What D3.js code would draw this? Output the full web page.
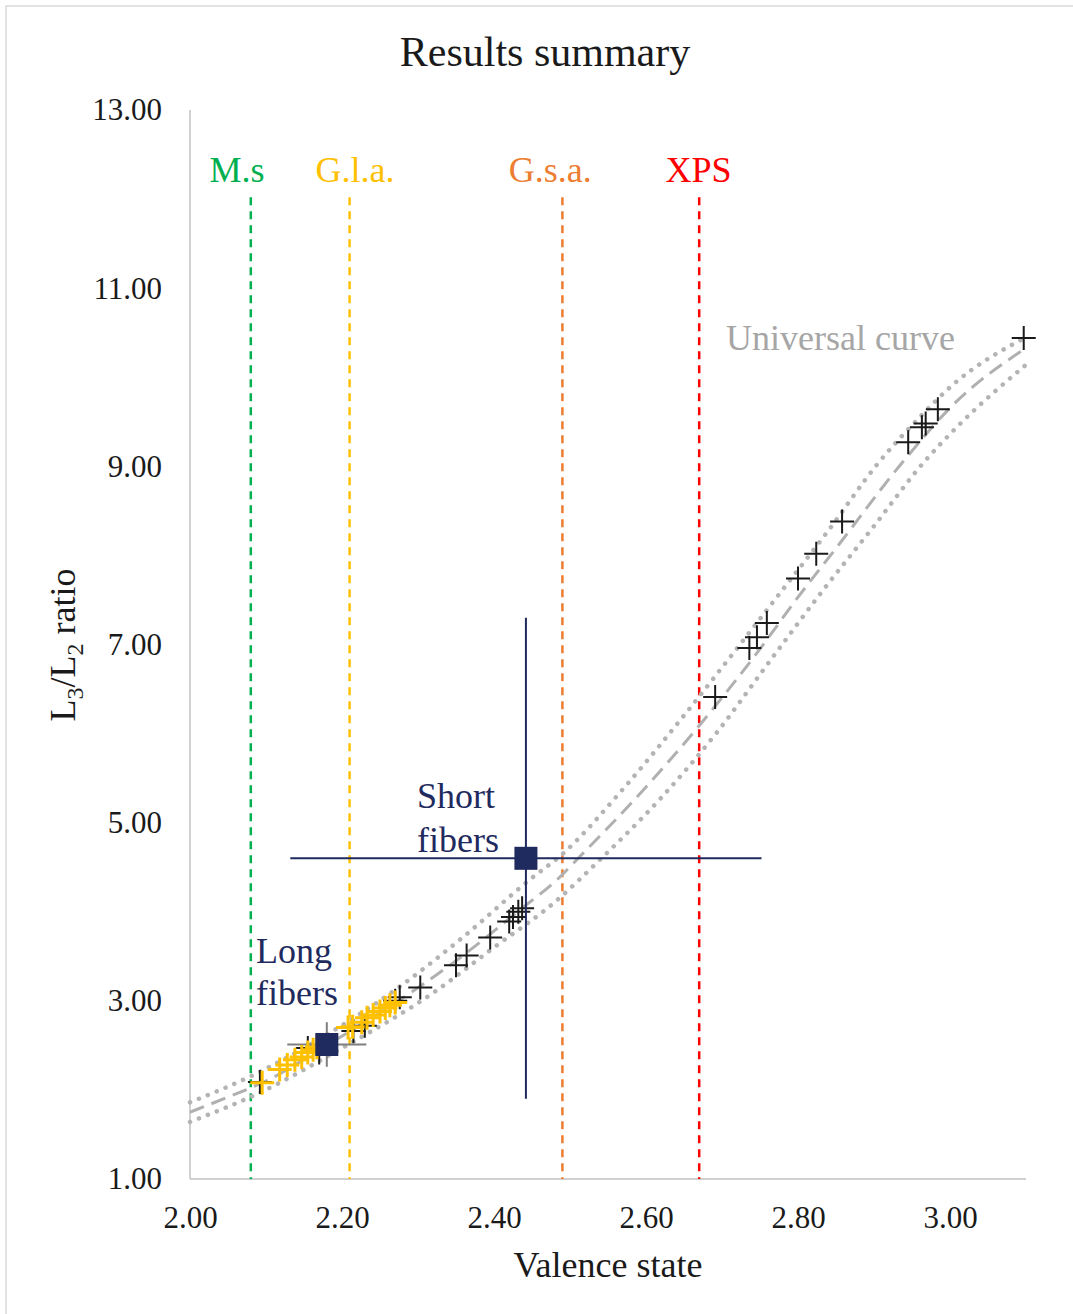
<!DOCTYPE html>
<html>
<head>
<meta charset="utf-8">
<script src="https://cdn.jsdelivr.net/npm/d3@7"></script>
<style>
  body { margin: 0; background: #fff; }
  text { font-family: "Liberation Serif", "Times New Roman", serif; }
</style>
</head>
<body>
<div id="chart"></div>
<script>
// universal curve (valence, L3/L2)
var midX = [2.00, 2.05, 2.10, 2.18, 2.29, 2.35, 2.434, 2.483, 2.513, 2.60, 2.671, 2.75, 2.799, 2.85, 2.937, 3.004, 3.10]
var midY = [1.75, 1.92, 2.10, 2.50, 3.09, 3.45, 4.02, 4.36, 4.62, 5.40, 6.10, 6.95, 7.52, 8.08, 9.04, 9.69, 10.33]
var upX = [2.00, 2.079, 2.18, 2.276, 2.36, 2.447, 2.489, 2.57, 2.645, 2.71, 2.772, 2.84, 2.904, 2.96, 3.003, 3.10]
var upY = [1.86, 2.15, 2.62, 3.16, 3.72, 4.36, 4.64, 5.38, 6.15, 6.85, 7.53, 8.28, 9.02, 9.55, 9.91, 10.45]
var loX = [2.00, 2.092, 2.20, 2.32, 2.40, 2.483, 2.539, 2.62, 2.693, 2.76, 2.833, 2.90, 2.965, 3.009, 3.10]
var loY = [1.64, 1.97, 2.47, 3.09, 3.60, 4.13, 4.58, 5.28, 6.01, 6.78, 7.61, 8.33, 9.04, 9.44, 10.14]

// black reference crosses
var blackX = [2.092, 2.155, 2.17, 2.215, 2.23, 2.27, 2.276, 2.303, 2.35, 2.364, 2.395, 2.42, 2.425, 2.432, 2.437,
              2.691, 2.736, 2.746, 2.759, 2.80, 2.824, 2.858, 2.945, 2.963, 2.968, 2.984, 3.097]
var blackY = [2.09, 2.47, 2.42, 2.66, 2.72, 3.00, 3.04, 3.15, 3.40, 3.51, 3.71, 3.89, 3.94, 4.00, 4.04,
              6.41, 6.96, 7.08, 7.24, 7.74, 8.02, 8.38, 9.27, 9.44, 9.48, 9.64, 10.44]

// yellow crosses (G.l.a.)
var yelX = [2.095, 2.118, 2.128, 2.138, 2.147, 2.155, 2.162, 2.167, 2.208, 2.214, 2.226, 2.233, 2.241, 2.25, 2.257, 2.263, 2.27]
var yelY = [2.08, 2.23, 2.28, 2.34, 2.37, 2.42, 2.45, 2.48, 2.70, 2.71, 2.76, 2.81, 2.84, 2.88, 2.92, 2.95, 2.98]

// measured fibers: value and error
var fiberNames = ["Long", "Short"]
var fiberX = [2.18, 2.442]
var fiberY = [2.51, 4.60]
var fiberErrX = [0.052, 0.31]
var fiberErrY = [0.25, 2.70]

// vertical method lines
var methodNames = ["M.s", "G.l.a.", "G.s.a.", "XPS"]
var methodX = [2.08, 2.21, 2.49, 2.67]
var methodLabelX = [2.062, 2.217, 2.474, 2.669]
var methodColors = ["#00b050", "#ffc000", "#ed7d31", "#ff0000"]

var xTicks = [2.0, 2.2, 2.4, 2.6, 2.8, 3.0]
var yTicks = [1, 3, 5, 7, 9, 11, 13]

var W = 1073, H = 1314

var svg = d3.select("#chart").append("svg")
    .attr("width", W)
    .attr("height", H)

svg.append("rect")
    .attr("x", 6).attr("y", 6)
    .attr("width", 1100).attr("height", 1400)
    .attr("fill", "white")
    .attr("stroke", "#d9d9d9")
    .attr("stroke-width", 1.5)

var x = d3.scaleLinear().domain([2.0, 3.1]).range([190, 1026])
var y = d3.scaleLinear().domain([1, 13]).range([1179, 110])

// title
svg.append("text")
    .attr("x", 545).attr("y", 66)
    .attr("text-anchor", "middle")
    .style("font-size", "42px")
    .attr("fill", "#1a1a1a")
    .text("Results summary")

// axes lines
svg.append("line")
    .attr("x1", x(2.0)).attr("x2", x(2.0))
    .attr("y1", y(13)).attr("y2", y(1))
    .attr("stroke", "#d0d0d0").attr("stroke-width", 2)
svg.append("line")
    .attr("x1", x(2.0)).attr("x2", x(3.1))
    .attr("y1", y(1)).attr("y2", y(1))
    .attr("stroke", "#d0d0d0").attr("stroke-width", 2)

var xAxis = d3.axisBottom(x).tickValues(xTicks).tickSize(0).tickPadding(27).tickFormat(d3.format(".2f"))
var gx = svg.append("g").attr("transform", "translate(0," + y(1) + ")").call(xAxis)
gx.select(".domain").remove()
gx.selectAll("text").style("font-size", "31px").attr("fill", "#1a1a1a")
    .style("font-family", "Liberation Serif")

var yAxis = d3.axisLeft(y).tickValues(yTicks).tickSize(0).tickPadding(28).tickFormat(d3.format(".2f"))
var gy = svg.append("g").attr("transform", "translate(" + x(2.0) + ",0)").call(yAxis)
gy.select(".domain").remove()
gy.selectAll("text").style("font-size", "31px").attr("fill", "#1a1a1a")
    .style("font-family", "Liberation Serif")

// axis titles
svg.append("text")
    .attr("x", 608).attr("y", 1277)
    .attr("text-anchor", "middle")
    .style("font-size", "36px")
    .attr("fill", "#1a1a1a")
    .text("Valence state")

var yl = svg.append("text")
    .attr("transform", "translate(75,645) rotate(-90)")
    .attr("text-anchor", "middle")
    .style("font-size", "36px")
    .attr("fill", "#1a1a1a")
yl.append("tspan").text("L")
yl.append("tspan").attr("dy", 8).style("font-size", "24px").text("3")
yl.append("tspan").attr("dy", -8).text("/L")
yl.append("tspan").attr("dy", 8).style("font-size", "24px").text("2")
yl.append("tspan").attr("dy", -8).text(" ratio")

// method lines
methodX.forEach(function(v, i){
    svg.append("line")
        .attr("x1", x(v)).attr("x2", x(v))
        .attr("y1", y(12.02)).attr("y2", y(1))
        .attr("stroke", methodColors[i])
        .attr("stroke-width", 2.5)
        .attr("stroke-dasharray", "8,6")
    svg.append("text")
        .attr("x", x(methodLabelX[i])).attr("y", 182)
        .attr("text-anchor", "middle")
        .style("font-size", "36px")
        .attr("fill", methodColors[i])
        .text(methodNames[i])
})

// universal curve
var line = d3.line()
    .x(function(d){ return x(d[0]) })
    .y(function(d){ return y(d[1]) })
    .curve(d3.curveMonotoneX)

svg.append("path")
    .datum(d3.zip(upX, upY))
    .attr("d", line)
    .attr("fill", "none").attr("stroke", "#b4b4b4")
    .attr("stroke-width", 4.5).attr("stroke-linecap", "round")
    .attr("stroke-dasharray", "0.1,9.5")
svg.append("path")
    .datum(d3.zip(loX, loY))
    .attr("d", line)
    .attr("fill", "none").attr("stroke", "#b4b4b4")
    .attr("stroke-width", 4.5).attr("stroke-linecap", "round")
    .attr("stroke-dasharray", "0.1,9.5")
svg.append("path")
    .datum(d3.zip(midX, midY))
    .attr("d", line)
    .attr("fill", "none").attr("stroke", "#b0b0b0")
    .attr("stroke-width", 3)
    .attr("stroke-dasharray", "15,8")

svg.append("text")
    .attr("x", 726).attr("y", 350)
    .style("font-size", "36px")
    .attr("fill", "#a6a6a6")
    .text("Universal curve")

function cross(g, xs, ys, half, color, w){
    g.selectAll(null).data(d3.zip(xs, ys))
        .enter().append("path")
        .attr("transform", function(d){ return "translate(" + x(d[0]) + "," + y(d[1]) + ")" })
        .attr("d", "M" + (-half) + ",0H" + half + "M0," + (-half) + "V" + half)
        .attr("stroke", color)
        .attr("stroke-width", w)
        .attr("fill", "none")
}

cross(svg.append("g"), blackX, blackY, 12, "#1a1a1a", 2)

// fiber error bars (long: gray, short: navy)
var errColors = ["#7f7f7f", "#1f2a5e"]
fiberNames.forEach(function(n, i){
    svg.append("line")
        .attr("x1", x(fiberX[i] - fiberErrX[i])).attr("x2", x(fiberX[i] + fiberErrX[i]))
        .attr("y1", y(fiberY[i])).attr("y2", y(fiberY[i]))
        .attr("stroke", errColors[i]).attr("stroke-width", 2)
    svg.append("line")
        .attr("x1", x(fiberX[i])).attr("x2", x(fiberX[i]))
        .attr("y1", y(fiberY[i] - fiberErrY[i])).attr("y2", y(fiberY[i] + fiberErrY[i]))
        .attr("stroke", errColors[i]).attr("stroke-width", 2)
})

cross(svg.append("g"), yelX, yelY, 12, "#ffc000", 3)

svg.selectAll(".fiber").data(d3.zip(fiberX, fiberY))
    .enter().append("rect")
    .attr("class", "fiber")
    .attr("x", function(d){ return x(d[0]) - 11.5 })
    .attr("y", function(d){ return y(d[1]) - 11.5 })
    .attr("width", 23).attr("height", 23)
    .attr("fill", "#1f2a5e")

// fiber labels
var labelColor = "#1f2a5e"
svg.append("text").attr("x", 417).attr("y", 808).style("font-size", "36px").attr("fill", labelColor).text("Short")
svg.append("text").attr("x", 417).attr("y", 852).style("font-size", "36px").attr("fill", labelColor).text("fibers")
svg.append("text").attr("x", 256).attr("y", 963).style("font-size", "36px").attr("fill", labelColor).text("Long")
svg.append("text").attr("x", 256).attr("y", 1005).style("font-size", "36px").attr("fill", labelColor).text("fibers")
</script>
</body>
</html>
